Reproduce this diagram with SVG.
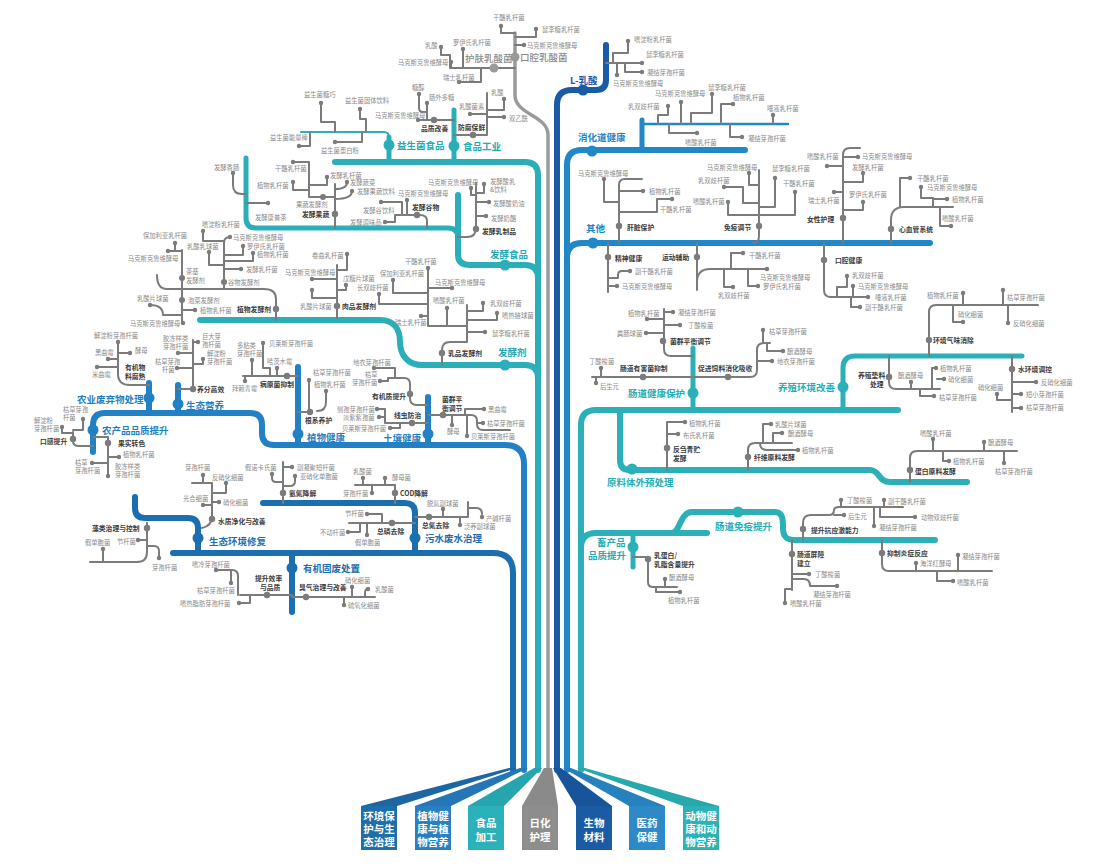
<svg xmlns="http://www.w3.org/2000/svg" width="1100" height="866" viewBox="0 0 1100 866">
<style>
text{font-family:"Noto Sans CJK SC","Noto Sans",sans-serif;dominant-baseline:central}
.l{font-size:6.3px;fill:#8a8a8a}
.s{font-size:6.8px;font-weight:700;fill:#3a3a3a}
.c{font-size:9.5px;font-weight:700}
.g{fill:none;stroke:#7b7b7b;stroke-width:2;stroke-linecap:round;stroke-linejoin:round}
.t{fill:none;stroke-linecap:round;stroke-linejoin:round}
.d{fill:#7b7b7b}
.bx{font-size:10.5px;font-weight:700;fill:#fff;text-anchor:middle}
.xg{fill:#8a8a8a}.xf{fill:#22a9b3}.xp{fill:#1f7fc2}.xe{fill:#1a6db0}.xb{fill:#1858a5}.xm{fill:#1f86c7}.xa{fill:#25adb5}
</style>
<rect width="1100" height="866" fill="#fff"/>
<g id="connectors">
<path class="t" stroke="#9a9a9a" stroke-width="3.5" d="M548,770 V135 C548,115 515,115 515,95 V33"/>
<g class="t" stroke="#2aafb9" stroke-width="6">
<path d="M335,162 H525 Q538,162 538,175 V770"/>
<path d="M246,158 V218 Q246,228 256,228 H448 Q458,228 458,238" stroke-width="5"/>
<path d="M458,195 V255 Q458,265 470,265 H525 Q538,265 538,278"/>
<path d="M200,320 H380 C395,320 400,330 400,342 C400,355 408,365 422,365 H525 Q538,365 538,378"/>
<path d="M389,137 V162" stroke-width="5"/>
<path d="M454,110 V162" stroke-width="5"/>
<path d="M301,132 H384 Q389,132 389,137" stroke-width="2"/>
</g>
<g class="t" stroke="#2281c4" stroke-width="6">
<path d="M93,452 V425 Q93,413 105,413 H250 Q262,413 262,425 V433 Q262,445 274,445 H505 Q524,445 524,464 V770"/>
<path d="M149,383 V413"/><path d="M178,385 V413"/><path d="M298,367 V445"/><path d="M428,397 V445"/>
</g>
<g class="t" stroke="#1b6eb0" stroke-width="6">
<path d="M135,497 V508 Q135,518 145,518 H188 Q198,518 198,528 V553"/>
<path d="M173,553 H493 Q513,553 513,573 V770"/>
<path d="M263,503 H405 Q415,503 415,513 V553"/>
<path d="M292,553 V612"/>
</g>
<path class="t" stroke="#1a5aa6" stroke-width="6" d="M557,770 V105 Q557,90 572,90 H596 Q606,90 606,80 V45"/>
<g class="t" stroke="#2087c8" stroke-width="6">
<path d="M567,770 V165 Q567,150 582,150 H745"/>
<path d="M567,258 Q567,243 582,243 H930"/>
<path d="M642,120 V150" stroke-width="5"/>
<path d="M642,124 H788" stroke-width="2.5"/>
</g>
<g class="t" stroke="#2bb0b8" stroke-width="6">
<path d="M581,770 V425 Q581,410 596,410 H898"/>
<path d="M581,548 Q581,533 596,533 H707"/>
<path d="M620,410 V460 Q620,470 630,470 H870 C880,470 878,482 890,482 H967"/>
<path d="M693,348 V410" stroke-width="5"/>
<path d="M843,410 V368 Q843,356 855,356 H1022" stroke-width="5"/>
<path d="M633,533 V567" stroke-width="5"/>
<path d="M672,533 C680,533 680,512 692,512 H775 C783,512 783,520 783,528 C783,536 786,540 795,540 H935"/>
</g>
<g class="g">
<path d="M501,26 V33 H515 M536,29 V37 H515 M515,45 H524 M515,68 H451 V62 M441,47 V55 H450 V68 M463,49 V68 M459,82 H481 V68"/>
<path d="M321,103 V122 H335 V132 M360,109 V119 H366 V132 M299,146 H310 V132 M335,142 H362 V132"/>
<path d="M418,120 H454 M419,94 V108 Q419,112 423,112 H427 V120 M427,103 V120 M454,135 H487 V93 M504,99 V110 H487 M470,114 H487 M487,117 H504"/>
<path d="M335,184 V228 M309,197 H335 M293,162 H309 V197 M293,182 V190 H309 M327,177 V185 H309 M335,189 Q347,189 347,182 M335,199 Q352,199 352,191 M233,173 V185 Q233,194 242,194 H246 M246,203 H268"/>
<path d="M395,215 H420 Q427,215 427,221 V228 M407,200 V215 M381,202 H402 V215 M385,222 H395 V215"/>
<path d="M476,183 V228 Q476,237 467,237 H458 M471,188 V195 H476 M484,184 V193 H476 M489,202 H476 M486,216 H476"/>
<path d="M157,275 Q157,289 167,289 H264 Q276,289 276,299 V320 M230,237 Q224,237 224,243 V289 M203,231 V241 H224 M209,252 V265 H224 M243,246 V255 H224 M253,252 V261 H224 M241,269 H224"/>
<path d="M182,250 V323 M168,251 H182 M175,243 V251 M150,305 Q163,305 163,315 H182 M195,310 H182"/>
<path d="M337,265 V318 M347,254 V270 H337 M312,279 H337 M346,285 V290 H337 M312,290 V298 H337"/>
<path d="M428,268 V326 H467 M467,305 V342 M447,308 V326 M467,342 H450 Q442,342 442,350 V365 M393,280 V293 H428 M452,288 H428 M379,294 V304 H428 M421,316 H428 M483,303 V311 H467 M497,313 V320 H467 M485,332 H467"/>
<path d="M118,342 V374 Q118,385 130,385 H149 M130,353 H118 M108,359 H118 M97,367 H118"/>
<path d="M193,340 V389 H178 M178,353 H193 M193,342 H198 M203,359 V364 H193 M177,368 H193"/>
<path d="M243,376 H298 M252,360 V376 M263,343 V368 H270 V376 M277,368 V376 M245,381 V376"/>
<path d="M298,412 H310 M309,380 V412 M326,391 V402 Q326,411 317,411"/>
<path d="M374,368 H395 V378 M380,381 H388 V378 M388,378 H404 Q410,378 410,384 V398 Q410,405 417,405 H428"/>
<path d="M385,409 V423 H428 M377,409 H385 M379,417 H385 M390,428 H400 V423"/>
<path d="M428,415 H471 Q477,415 477,421 V424 Q477,430 483,430 H510 M484,409 H465 V415 M452,425 V415 M483,423 H477 M467,436 V415"/>
<path d="M83,419 V430 H73 M73,432 V441 Q73,446 79,446 H93 M62,427 V433 H73 M93,437 H108 V476 M119,457 H108 M92,463 H108"/>
<path d="M147,523 V552 Q147,562 137,562 H90 M138,540 H147 M147,546 H154 Q159,546 159,551 V558 M103,549 V562"/>
<path d="M192,483 H212 V516 Q212,526 202,528 M203,475 V483 M226,483 V493 H212 M203,505 H212 M219,502 H212"/>
<path d="M283,462 V503 M283,467 H292 M295,476 V481 Q295,486 290,486 H283 M272,474 V478 Q272,482 276,482 H283"/>
<path d="M355,485 H395 V503 M363,478 V485 M385,478 V485 M372,493 V485"/>
<path d="M349,523 H415 M367,514 H382 V523 M348,532 H360 V523 M367,535 V523"/>
<path d="M415,517 H468 V502 M443,509 V517 M460,525 V517 M468,508 H476 Q482,508 482,514"/>
<path d="M240,595 H292 M216,570 H232 Q238,570 238,576 V595 M231,583 V570 M239,603 H250 V595"/>
<path d="M292,597 H375 M352,587 V597 M368,589 Q365,589 365,593 V597 M344,605 V597"/>
<path d="M606,63 H642 M628,41 V53 H613 V63 M625,63 V72 H642 M617,75 V63"/>
<path d="M668,106 V115 H658 V124 M681,102 V124 M712,94 V113 H691 V124 M733,104 H721 V124 M773,115 V124 M697,133 H669 V124 M742,137 H730 V124"/>
<path d="M642,179 H625 Q619,179 619,185 V243 M604,179 V202 H619 M643,191 H619 M672,199 H657 V212 H619"/>
<path d="M759,170 V236 Q759,243 753,243 M749,173 V185 H759 M724,187 H743 V203 H759 M728,202 V215 H759 M775,178 V207 H759 M795,192 V215 H759"/>
<path d="M860,148 H850 Q843,148 843,155 V243 M827,166 H843 M858,157 H843 M863,173 V182 H843 M834,192 H843 M863,202 V210 H843"/>
<path d="M891,243 V220 Q891,207 904,207 H953 M910,178 H900 V207 M921,187 V198 H933 V207 M947,199 H933 M951,226 H940 V207"/>
<path d="M608,243 V292 M630,271 H622 Q618,271 618,275 V278 H608 M617,286 H608"/>
<path d="M697,243 V290 M697,282 Q697,269 710,269 H767 M743,253 H731 V269 M733,287 H724 V269 M758,286 H748 V269"/>
<path d="M824,243 V290 Q824,297 831,297 H868 M847,276 V287 H837 V297 M853,286 V297 M860,307 H851 V297"/>
<path d="M664,309 V349 Q664,356 671,356 H693 M673,312 H664 M647,319 H664 M680,325 H664 M646,333 H664"/>
<path d="M592,377 H750 Q757,377 757,370 V350 Q757,343 764,343 H770 M601,368 V377 M596,383 V377 M763,330 V343 M783,351 H767 V343 M772,361 H757"/>
<path d="M929,356 V312 Q929,305 936,305 H1038 M963,293 V305 M963,322 H953 V305 M1003,290 V305 M1008,323 V305"/>
<path d="M889,356 V382 Q889,389 896,389 H940 M911,382 V389 M936,368 H932 V389 M944,379 H937 M934,396 H920 V389"/>
<path d="M1012,356 V412 M997,394 V400 H1012 M1012,382 H1036 M1012,394 H1021 M1012,408 H1021"/>
<path d="M667,470 V422 H685 M678,434 H667"/>
<path d="M748,470 V450 Q748,443 755,443 H792 M771,424 H763 V443 M782,433 H773 V443 M760,443 Q760,450 767,450 H798"/>
<path d="M910,482 V458 Q910,451 917,451 H1017 M933,439 V451 M984,442 V451 M949,461 H943 V451 M1004,463 V451"/>
<path d="M803,540 V523 Q803,515 811,515 H829 Q834,515 834,510 Q834,507 839,507 H903 M841,500 V507 M844,515 H834 M884,500 V507 M915,517 H880 V507 M874,526 V507"/>
<path d="M792,540 V590 M809,574 H792 M792,579 H804 Q810,579 810,586 H837 M785,603 V589 H792"/>
<path d="M882,540 V564 Q882,571 889,571 H992 M916,563 V571 M958,555 V571 M953,581 H937 V571"/>
<path d="M633,557 H648 V582 Q648,587 653,587 H677 M656,587 V592 H680 M665,579 V587"/>
</g>
</g>
<g id="n-oral">
<circle cx="515" cy="57" r="4.5" fill="#9a9a9a"/><text class="c xg" x="520" y="57" style="font-weight:500">口腔乳酸菌</text>
<circle class="d" cx="501" cy="26" r="2.2"/><text class="l" x="493" y="17">干酪乳杆菌</text>
<circle class="d" cx="536" cy="29" r="2.2"/><text class="l" x="542" y="29">鼠李糖乳杆菌</text>
<circle class="d" cx="524" cy="45" r="2.2"/><text class="l" x="527" y="45">马克斯克鲁维酵母</text>
</g>
<g id="n-skin">
<circle cx="494" cy="68" r="4.5" fill="#9a9a9a"/><text class="c xg" x="465" y="58" style="font-weight:500">护肤乳酸菌</text>
<circle class="d" cx="441" cy="47" r="2.2"/><text class="l" x="425" y="45">乳酸</text>
<circle class="d" cx="463" cy="49" r="2.2"/><text class="l" x="453" y="42">罗伊氏乳杆菌</text>
<circle class="d" cx="451" cy="62" r="2.2"/><text class="l" x="398" y="62">马克斯克鲁维酵母</text>
<circle class="d" cx="459" cy="82" r="2.2"/><text class="l" x="443" y="77">瑞士乳杆菌</text>
</g>
<g id="n-probiotic-food">
<circle cx="389" cy="145" r="5.5" fill="#2aafb9"/><text class="c xf" x="397" y="145">益生菌食品</text>
<circle class="d" cx="321" cy="103" r="2.2"/><text class="l" x="304" y="94">益生菌糖巧</text>
<circle class="d" cx="360" cy="109" r="2.2"/><text class="l" x="345" y="100">益生菌固体饮料</text>
<circle class="d" cx="299" cy="146" r="2.2"/><text class="l" x="270" y="137">益生菌能量棒</text>
<circle class="d" cx="335" cy="142" r="2.2"/><text class="l" x="321" y="150">益生菌蛋白粉</text>
</g>
<g id="n-food-industry">
<circle cx="454" cy="146" r="5.5" fill="#2aafb9"/><text class="c xf" x="463" y="146">食品工业</text>
<circle class="d" cx="418" cy="120" r="2.2"/><text class="l" x="375" y="115">马克斯克鲁维酵母</text>
<circle class="d" cx="434" cy="120" r="3.2"/><text class="s" x="421" y="128">品质改善</text>
<circle class="d" cx="419" cy="94" r="2.2"/><text class="l" x="412" y="87">糖醇</text>
<circle class="d" cx="427" cy="103" r="2.2"/><text class="l" x="429" y="97">肠外多糖</text>
<circle class="d" cx="473" cy="135" r="3.2"/><text class="s" x="458" y="127">防腐保鲜</text>
<circle class="d" cx="504" cy="99" r="2.2"/><text class="l" x="491" y="92">乳酸</text>
<circle class="d" cx="470" cy="114" r="2.2"/><text class="l" x="459" y="106">乳酸菌素</text>
<circle class="d" cx="504" cy="117" r="2.2"/><text class="l" x="509" y="118">双乙酰</text>
</g>
<g id="n-ferment-food">
<circle cx="505" cy="265" r="5.5" fill="#2aafb9"/><text class="c xf" x="490" y="254">发酵食品</text>
<circle class="d" cx="335" cy="214" r="3.2"/><text class="s" x="302" y="214">发酵果蔬</text>
<circle class="d" cx="323" cy="197" r="3"/><text class="l" x="296" y="204">果蔬发酵剂</text>
<circle class="d" cx="293" cy="162" r="2.2"/><text class="l" x="275" y="168">干酪乳杆菌</text>
<circle class="d" cx="293" cy="182" r="2.2"/><text class="l" x="257" y="185">植物乳杆菌</text>
<circle class="d" cx="327" cy="177" r="2.2"/><text class="l" x="330" y="175">发酵乳杆菌</text>
<circle class="d" cx="347" cy="182" r="2.2"/><text class="l" x="350" y="182">发酵蔬菜</text>
<circle class="d" cx="352" cy="191" r="2.2"/><text class="l" x="357" y="191">发酵果蔬饮料</text>
<circle class="d" cx="233" cy="173" r="2.2"/><text class="l" x="214" y="167">发酵香肠</text>
<circle class="d" cx="268" cy="203" r="2.2"/><text class="l" x="255" y="217">发酵康普茶</text>
<circle class="d" cx="417" cy="215" r="3.2"/><text class="s" x="412" y="207">发酵谷物</text>
<circle class="d" cx="407" cy="200" r="2.2"/><text class="l" x="398" y="193">马克斯克鲁维酵母</text>
<circle class="d" cx="381" cy="202" r="2.2"/><text class="l" x="363" y="210">发酵谷饮料</text>
<circle class="d" cx="385" cy="222" r="2.2"/><text class="l" x="350" y="222">发酵调味品</text>
<circle class="d" cx="476" cy="229" r="3.2"/><text class="s" x="482" y="231">发酵乳制品</text>
<circle class="d" cx="471" cy="188" r="2.2"/><text class="l" x="428" y="182">马克斯克鲁维酵母</text>
<circle class="d" cx="484" cy="184" r="2.2"/><text class="l" x="490" y="181.5">发酵酸乳</text><text class="l" x="490" y="189.5">&amp;饮料</text>
<circle class="d" cx="489" cy="202" r="2.2"/><text class="l" x="493" y="203">发酵酸奶油</text>
<circle class="d" cx="486" cy="216" r="2.2"/><text class="l" x="491" y="218">发酵奶酪</text>
</g>
<g id="n-starter">
<circle cx="505" cy="365" r="5.5" fill="#2aafb9"/><text class="c xf" x="498" y="352">发酵剂</text>
<circle class="d" cx="276" cy="309" r="3.2"/><text class="s" x="237" y="309">植物发酵剂</text>
<circle class="d" cx="224" cy="282" r="3"/><text class="l" x="228" y="282">谷物发酵剂</text>
<circle class="d" cx="230" cy="237" r="2.2"/><text class="l" x="233" y="237">马克斯克鲁维酵母</text>
<circle class="d" cx="203" cy="231" r="2.2"/><text class="l" x="202" y="224">嗜淀粉乳杆菌</text>
<circle class="d" cx="209" cy="252" r="2.2"/><text class="l" x="187" y="246">乳酸乳球菌</text>
<circle class="d" cx="243" cy="246" r="2.2"/><text class="l" x="247" y="246">罗伊氏乳杆菌</text>
<circle class="d" cx="253" cy="253" r="2.2"/><text class="l" x="257" y="254">植物乳杆菌</text>
<circle class="d" cx="241" cy="269" r="2.2"/><text class="l" x="246" y="269">发酵乳杆菌</text>
<circle class="d" cx="182" cy="278" r="3"/><text class="l" x="186" y="271.5">茶基</text><text class="l" x="186" y="280">发酵剂</text>
<circle class="d" cx="182" cy="300" r="3"/><text class="l" x="188" y="300">泡菜发酵剂</text>
<circle class="d" cx="175" cy="243" r="2.2"/><text class="l" x="143" y="235">保加利亚乳杆菌</text>
<circle class="d" cx="168" cy="251" r="2.2"/><text class="l" x="128" y="258">马克斯克鲁维酵母</text>
<circle class="d" cx="150" cy="305" r="2.2"/><text class="l" x="137" y="298">乳酸片球菌</text>
<circle class="d" cx="195" cy="310" r="2.2"/><text class="l" x="200" y="310">植物乳杆菌</text>
<circle class="d" cx="183" cy="323" r="2.2"/><text class="l" x="130" y="323">马克斯克鲁维酵母</text>
<circle class="d" cx="337" cy="306" r="3.2"/><text class="s" x="342" y="306">肉品发酵剂</text>
<circle class="d" cx="347" cy="254" r="2.2"/><text class="l" x="312" y="255">卷曲乳杆菌</text>
<circle class="d" cx="312" cy="279" r="2.2"/><text class="l" x="285" y="272">马克斯克鲁维酵母</text>
<circle class="d" cx="346" cy="285" r="2.2"/><text class="l" x="343" y="278">戊糖片球菌</text>
<circle class="d" cx="312" cy="290" r="2.2"/><text class="l" x="300" y="306">乳酸片球菌</text>
<circle class="d" cx="442" cy="353" r="3.2"/><text class="s" x="448" y="353">乳品发酵剂</text>
<circle class="d" cx="428" cy="268" r="2.2"/><text class="l" x="405" y="261">干酪乳杆菌</text>
<circle class="d" cx="393" cy="280" r="2.2"/><text class="l" x="380" y="273">保加利亚乳杆菌</text>
<circle class="d" cx="452" cy="288" r="2.2"/><text class="l" x="435" y="282">马克斯克鲁维酵母</text>
<circle class="d" cx="379" cy="294" r="2.2"/><text class="l" x="357" y="287">长双歧杆菌</text>
<circle class="d" cx="447" cy="308" r="2.2"/><text class="l" x="433" y="300">嗜酸乳杆菌</text>
<circle class="d" cx="421" cy="316" r="2.2"/><text class="l" x="395" y="322">瑞士乳杆菌</text>
<circle class="d" cx="483" cy="303" r="2.2"/><text class="l" x="490" y="303">乳双歧杆菌</text>
<circle class="d" cx="497" cy="313" r="2.2"/><text class="l" x="502" y="315">嗜热链球菌</text>
<circle class="d" cx="485" cy="332" r="2.2"/><text class="l" x="492" y="333">鼠李糖乳杆菌</text>
</g>
<g id="n-agri-waste">
<circle cx="149" cy="398" r="5.5" fill="#2281c4"/><text class="c xp" x="77" y="399">农业废弃物处理</text>
<text class="s" x="125" y="367">有机物</text><text class="s" x="125" y="376">料腐熟</text>
<circle class="d" cx="118" cy="342" r="2.2"/><text class="l" x="94" y="335">解淀粉芽孢杆菌</text>
<circle class="d" cx="130" cy="353" r="2.2"/><text class="l" x="135" y="350">酵母</text>
<circle class="d" cx="108" cy="359" r="2.2"/><text class="l" x="95" y="352">黑曲霉</text>
<circle class="d" cx="97" cy="367" r="2.2"/><text class="l" x="92" y="374">米曲霉</text>
</g>
<g id="n-eco-nutrition">
<circle cx="178" cy="404" r="5.5" fill="#2281c4"/><text class="c xp" x="186" y="405">生态营养</text>
<circle class="d" cx="193" cy="389" r="3.2"/><text class="s" x="197" y="389">养分高效</text>
<circle class="d" cx="178" cy="353" r="2.2"/><text class="l" x="163" y="338.5">胶冻样类</text><text class="l" x="163" y="346.5">芽孢杆菌</text>
<circle class="d" cx="198" cy="342" r="2.2"/><text class="l" x="202" y="336.5">巨大芽</text><text class="l" x="202" y="344.5">孢杆菌</text>
<circle class="d" cx="203" cy="359" r="2.2"/><text class="l" x="207" y="353.5">解淀粉</text><text class="l" x="207" y="361.5">芽孢杆菌</text>
<circle class="d" cx="177" cy="368" r="2.2"/><text class="l" x="155" y="361.5">枯草芽孢</text><text class="l" x="162" y="369.5">杆菌</text>
</g>
<g id="n-agri-quality">
<circle cx="93" cy="430" r="5.5" fill="#2281c4"/><text class="c xp" x="102" y="430">农产品品质提升</text>
<circle class="d" cx="73" cy="439" r="3.2"/><text class="s" x="40" y="441">口感提升</text>
<circle class="d" cx="83" cy="419" r="2.2"/><text class="l" x="63" y="409.5">枯草芽孢</text><text class="l" x="63" y="417.5">杆菌</text>
<circle class="d" cx="62" cy="427" r="2.2"/><text class="l" x="34" y="420.5">解淀粉</text><text class="l" x="34" y="428.5">芽孢杆菌</text>
<circle class="d" cx="108" cy="443" r="3.2"/><text class="s" x="118" y="443">果实转色</text>
<circle class="d" cx="119" cy="457" r="2.2"/><text class="l" x="123" y="454">植物乳杆菌</text>
<circle class="d" cx="92" cy="463" r="2.2"/><text class="l" x="75" y="462.5">枯草</text><text class="l" x="75" y="470.5">芽孢杆菌</text>
<circle class="d" cx="108" cy="476" r="2.2"/><text class="l" x="115" y="466.5">胶冻样类</text><text class="l" x="115" y="474.5">芽孢杆菌</text>
</g>
<g id="n-plant-health">
<circle cx="298" cy="434" r="5.5" fill="#2281c4"/><text class="c xp" x="307" y="437">植物健康</text>
<circle class="d" cx="287" cy="376" r="3.2"/><text class="s" x="260" y="384">病原菌抑制</text>
<circle class="d" cx="252" cy="360" r="2.2"/><text class="l" x="237" y="345">多粘类</text><text class="l" x="237" y="353">芽孢杆菌</text>
<circle class="d" cx="263" cy="343" r="2.2"/><text class="l" x="269" y="343">贝莱斯芽孢杆菌</text>
<circle class="d" cx="277" cy="368" r="2.2"/><text class="l" x="267" y="361">哈茨木霉</text>
<circle class="d" cx="245" cy="381" r="2.2"/><text class="l" x="232" y="388">拜赖青霉</text>
<circle class="d" cx="310" cy="412" r="3.2"/><text class="s" x="305" y="420">根系养护</text>
<circle class="d" cx="309" cy="380" r="2.2"/><text class="l" x="313" y="372">枯草芽孢杆菌</text>
<circle class="d" cx="326" cy="391" r="2.2"/><text class="l" x="314" y="384">植物乳杆菌</text>
</g>
<g id="n-soil">
<circle cx="428" cy="434" r="5.5" fill="#2281c4"/><text class="c xp" x="383" y="438">土壤健康</text>
<circle class="d" cx="410" cy="394" r="3.2"/><text class="s" x="372" y="396">有机质提升</text>
<circle class="d" cx="374" cy="368" r="2.2"/><text class="l" x="353" y="362">地衣芽孢杆菌</text>
<circle class="d" cx="380" cy="381" r="2.2"/><text class="l" x="365" y="374.5">枯草</text><text class="l" x="352" y="382.5">芽孢杆菌</text>
<circle class="d" cx="412" cy="423" r="3.2"/><text class="s" x="394" y="415">线虫防治</text>
<circle class="d" cx="377" cy="409" r="2.2"/><text class="l" x="337" y="409">侧孢芽孢杆菌</text>
<circle class="d" cx="379" cy="417" r="2.2"/><text class="l" x="343" y="417">淡紫紫孢菌</text>
<circle class="d" cx="390" cy="428" r="2.2"/><text class="l" x="342" y="428">贝莱斯芽孢杆菌</text>
<circle class="d" cx="443" cy="415" r="3.2"/><text class="s" x="442" y="399">菌群平</text><text class="s" x="442" y="407.5">衡调节</text>
<circle class="d" cx="484" cy="409" r="2.2"/><text class="l" x="488" y="409">黑曲霉</text>
<circle class="d" cx="452" cy="425" r="2.2"/><text class="l" x="447" y="431">酵母</text>
<circle class="d" cx="483" cy="423" r="2.2"/><text class="l" x="487" y="423">枯草芽孢杆菌</text>
<circle class="d" cx="467" cy="436" r="2.2"/><text class="l" x="471" y="436">贝莱斯芽孢杆菌</text>
</g>
<g id="n-eco-repair">
<circle cx="198" cy="538" r="5.5" fill="#1b6eb0"/><text class="c xe" x="209" y="541">生态环境修复</text>
<circle class="d" cx="147" cy="528" r="3.2"/><text class="s" x="92" y="528">藻类治理与控制</text>
<circle class="d" cx="138" cy="540" r="2.2"/><text class="l" x="117" y="541">节杆菌</text>
<circle class="d" cx="159" cy="558" r="2.2"/><text class="l" x="152" y="567">芽孢杆菌</text>
<circle class="d" cx="103" cy="549" r="2.2"/><text class="l" x="85" y="542">假单胞菌</text>
<circle class="d" cx="212" cy="519" r="3.2"/><text class="s" x="218" y="521">水质净化与改善</text>
<circle class="d" cx="203" cy="475" r="2.2"/><text class="l" x="185" y="467">芽孢杆菌</text>
<circle class="d" cx="226" cy="483" r="2.2"/><text class="l" x="212" y="477">反硝化细菌</text>
<circle class="d" cx="203" cy="505" r="2.2"/><text class="l" x="183" y="498">光合细菌</text>
<circle class="d" cx="219" cy="502" r="2.2"/><text class="l" x="223" y="502">硝化细菌</text>
</g>
<g id="n-wastewater">
<circle cx="415" cy="538" r="5.5" fill="#1b6eb0"/><text class="c xe" x="425" y="538">污水废水治理</text>
<circle class="d" cx="283" cy="493" r="3.2"/><text class="s" x="289" y="493">氨氮降解</text>
<circle class="d" cx="272" cy="474" r="2.2"/><text class="l" x="245" y="467">假诺卡氏菌</text>
<circle class="d" cx="292" cy="467" r="2.2"/><text class="l" x="297" y="467">副凝聚短杆菌</text>
<circle class="d" cx="295" cy="476" r="2.2"/><text class="l" x="300" y="476">亚硝化单胞菌</text>
<circle class="d" cx="395" cy="493" r="3.2"/><text class="s" x="400" y="493">COD降解</text>
<circle class="d" cx="363" cy="478" r="2.2"/><text class="l" x="353" y="471">乳酸菌</text>
<circle class="d" cx="385" cy="478" r="2.2"/><text class="l" x="392" y="477">酵母菌</text>
<circle class="d" cx="372" cy="493" r="2.2"/><text class="l" x="343" y="493">芽孢杆菌</text>
<circle class="d" cx="392" cy="523" r="3.2"/><text class="s" x="377" y="531">总磷去除</text>
<circle class="d" cx="367" cy="514" r="2.2"/><text class="l" x="345" y="513">节杆菌</text>
<circle class="d" cx="348" cy="532" r="2.2"/><text class="l" x="320" y="532">不动杆菌</text>
<circle class="d" cx="367" cy="535" r="2.2"/><text class="l" x="355" y="542">假单胞菌</text>
<circle class="d" cx="429" cy="517" r="3.2"/><text class="s" x="422" y="525">总氮去除</text>
<circle class="d" cx="443" cy="509" r="2.2"/><text class="l" x="427" y="503">脱氮副球菌</text>
<circle class="d" cx="460" cy="525" r="2.2"/><text class="l" x="464" y="526">泛养副球菌</text>
<circle class="d" cx="482" cy="517" r="2.2"/><text class="l" x="486" y="518">产碱杆菌</text>
</g>
<g id="n-solid-waste">
<circle cx="292" cy="568" r="5.5" fill="#1b6eb0"/><text class="c xe" x="303" y="568">有机固废处置</text>
<circle class="d" cx="267" cy="595" r="3.2"/><text class="s" x="255" y="578">提升效率</text><text class="s" x="260" y="587">与品质</text>
<circle class="d" cx="216" cy="570" r="2.2"/><text class="l" x="192" y="564">嗜冷芽孢杆菌</text>
<circle class="d" cx="231" cy="583" r="2.2"/><text class="l" x="197" y="590">枯草芽孢杆菌</text>
<circle class="d" cx="239" cy="603" r="2.2"/><text class="l" x="180" y="603">嗜热脂肪芽孢杆菌</text>
<circle class="d" cx="306" cy="597" r="3.2"/><text class="s" x="299" y="587">臭气治理与改善</text>
<circle class="d" cx="352" cy="587" r="2.2"/><text class="l" x="345" y="580">硝化细菌</text>
<circle class="d" cx="368" cy="589" r="2.2"/><text class="l" x="375" y="589">乳酸菌</text>
<circle class="d" cx="344" cy="605" r="2.2"/><text class="l" x="348" y="605">硫氧化细菌</text>
</g>
<g id="n-lactic">
<circle cx="583" cy="90" r="5.5" fill="#1a5aa6"/><text class="c xb" x="570" y="80">L-乳酸</text>
<circle class="d" cx="628" cy="41" r="2.2"/><text class="l" x="634" y="39">嗜淀粉乳杆菌</text>
<circle class="d" cx="642" cy="63" r="2.2"/><text class="l" x="646" y="54">鼠李糖乳杆菌</text>
<circle class="d" cx="642" cy="72" r="2.2"/><text class="l" x="647" y="72">凝结芽孢杆菌</text>
<circle class="d" cx="617" cy="75" r="2.2"/><text class="l" x="613" y="83">马克斯克鲁维酵母</text>
</g>
<g id="n-digestive">
<circle cx="592" cy="151" r="5.5" fill="#2087c8"/><text class="c xm" x="578" y="137">消化道健康</text>
<circle class="d" cx="668" cy="106" r="2.2"/><text class="l" x="628" y="106">乳双歧杆菌</text>
<circle class="d" cx="681" cy="102" r="2.2"/><text class="l" x="655" y="93">马克斯克鲁维酵母</text>
<circle class="d" cx="712" cy="94" r="2.2"/><text class="l" x="708" y="87">鼠李糖乳杆菌</text>
<circle class="d" cx="733" cy="104" r="2.2"/><text class="l" x="733" y="97">植物乳杆菌</text>
<circle class="d" cx="773" cy="115" r="2.2"/><text class="l" x="767" y="108">唾液乳杆菌</text>
<circle class="d" cx="697" cy="133" r="2.2"/><text class="l" x="685" y="142">嗜酸乳杆菌</text>
<circle class="d" cx="742" cy="137" r="2.2"/><text class="l" x="748" y="138">凝结芽孢杆菌</text>
</g>
<g id="n-other">
<circle cx="593" cy="243" r="5.5" fill="#2087c8"/><text class="c xm" x="586" y="228">其他</text>
<circle class="d" cx="619" cy="226" r="3.2"/><text class="s" x="627" y="227">肝脏保护</text>
<circle class="d" cx="604" cy="179" r="2.2"/><text class="l" x="578" y="173">马克斯克鲁维酵母</text>
<circle class="d" cx="643" cy="191" r="2.2"/><text class="l" x="649" y="191">植物乳杆菌</text>
<circle class="d" cx="672" cy="199" r="2.2"/><text class="l" x="660" y="209">干酪乳杆菌</text>
<circle class="d" cx="759" cy="226" r="3.2"/><text class="s" x="724" y="227">免疫调节</text>
<circle class="d" cx="749" cy="173" r="2.2"/><text class="l" x="707" y="167">马克斯克鲁维酵母</text>
<circle class="d" cx="724" cy="187" r="2.2"/><text class="l" x="698" y="180">乳双歧杆菌</text>
<circle class="d" cx="728" cy="202" r="2.2"/><text class="l" x="693" y="201">嗜酸乳杆菌</text>
<circle class="d" cx="775" cy="178" r="2.2"/><text class="l" x="772" y="168">鼠李糖乳杆菌</text>
<circle class="d" cx="795" cy="192" r="2.2"/><text class="l" x="783" y="183">干酪乳杆菌</text>
<circle class="d" cx="843" cy="218" r="3.2"/><text class="s" x="807" y="219">女性护理</text>
<circle class="d" cx="827" cy="166" r="2.2"/><text class="l" x="807" y="156">嗜酸乳杆菌</text>
<circle class="d" cx="858" cy="157" r="2.2"/><text class="l" x="862" y="156">马克斯克鲁维酵母</text>
<circle class="d" cx="863" cy="173" r="2.2"/><text class="l" x="852" y="167">发酵乳杆菌</text>
<circle class="d" cx="834" cy="192" r="2.2"/><text class="l" x="808" y="200">瑞士乳杆菌</text>
<circle class="d" cx="863" cy="202" r="2.2"/><text class="l" x="849" y="194">罗伊氏乳杆菌</text>
<circle class="d" cx="891" cy="229" r="3.2"/><text class="s" x="899" y="229">心血管系统</text>
<circle class="d" cx="910" cy="178" r="2.2"/><text class="l" x="917" y="178">干酪乳杆菌</text>
<circle class="d" cx="921" cy="187" r="2.2"/><text class="l" x="927" y="187">马克斯克鲁维酵母</text>
<circle class="d" cx="947" cy="199" r="2.2"/><text class="l" x="952" y="199">植物乳杆菌</text>
<circle class="d" cx="951" cy="226" r="2.2"/><text class="l" x="942" y="218">嗜酸乳杆菌</text>
<circle class="d" cx="608" cy="257" r="3.2"/><text class="s" x="615" y="258">精神健康</text>
<circle class="d" cx="630" cy="271" r="2.2"/><text class="l" x="635" y="271">副干酪乳杆菌</text>
<circle class="d" cx="617" cy="286" r="2.2"/><text class="l" x="622" y="286">马克斯克鲁维酵母</text>
<circle class="d" cx="697" cy="257" r="3.2"/><text class="s" x="662" y="257">运动辅助</text>
<circle class="d" cx="743" cy="253" r="2.2"/><text class="l" x="749" y="255">干酪乳杆菌</text>
<circle class="d" cx="733" cy="287" r="2.2"/><text class="l" x="718" y="295">乳双歧杆菌</text>
<circle class="d" cx="767" cy="269" r="2.2"/><text class="l" x="760" y="277">马克斯克鲁维酵母</text>
<circle class="d" cx="758" cy="286" r="2.2"/><text class="l" x="763" y="286">罗伊氏乳杆菌</text>
<circle class="d" cx="824" cy="260" r="3.2"/><text class="s" x="835" y="260">口腔健康</text>
<circle class="d" cx="847" cy="276" r="2.2"/><text class="l" x="852" y="275">乳双歧杆菌</text>
<circle class="d" cx="853" cy="286" r="2.2"/><text class="l" x="858" y="286">马克斯克鲁维酵母</text>
<circle class="d" cx="868" cy="297" r="2.2"/><text class="l" x="875" y="297">唾液乳杆菌</text>
<circle class="d" cx="860" cy="307" r="2.2"/><text class="l" x="865" y="307">副干酪乳杆菌</text>
</g>
<g id="n-gut-protect">
<circle cx="693" cy="393" r="5.5" fill="#2bb0b8"/><text class="c xa" x="628" y="393">肠道健康保护</text>
<circle class="d" cx="663" cy="341" r="3.2"/><text class="s" x="670" y="341">菌群平衡调节</text>
<circle class="d" cx="647" cy="319" r="2.2"/><text class="l" x="628" y="313">植物乳杆菌</text>
<circle class="d" cx="673" cy="312" r="2.2"/><text class="l" x="678" y="312">凝结芽孢杆菌</text>
<circle class="d" cx="680" cy="325" r="2.2"/><text class="l" x="688" y="325">丁酸梭菌</text>
<circle class="d" cx="646" cy="333" r="2.2"/><text class="l" x="617" y="333">粪肠球菌</text>
<circle class="d" cx="643" cy="377" r="3.2"/><text class="s" x="620" y="368">肠道有害菌抑制</text>
<circle class="d" cx="601" cy="368" r="2.2"/><text class="l" x="589" y="361">丁酸梭菌</text>
<circle class="d" cx="596" cy="383" r="2.2"/><text class="l" x="600" y="386">后生元</text>
<circle class="d" cx="728" cy="377" r="3.2"/><text class="s" x="698" y="368">促进饲料消化吸收</text>
<circle class="d" cx="763" cy="330" r="2.2"/><text class="l" x="769" y="331">枯草芽孢杆菌</text>
<circle class="d" cx="783" cy="351" r="2.2"/><text class="l" x="787" y="351">酿酒酵母</text>
<circle class="d" cx="772" cy="361" r="2.2"/><text class="l" x="777" y="361">地衣芽孢杆菌</text>
</g>
<g id="n-farm-env">
<circle cx="843" cy="387" r="5.5" fill="#2bb0b8"/><text class="c xa" x="778" y="387">养殖环境改善</text>
<circle class="d" cx="929" cy="340" r="3.2"/><text class="s" x="933" y="340">环境气味消除</text>
<circle class="d" cx="963" cy="293" r="2.2"/><text class="l" x="927" y="295">植物乳杆菌</text>
<circle class="d" cx="963" cy="322" r="2.2"/><text class="l" x="958" y="314">硝化细菌</text>
<circle class="d" cx="1003" cy="290" r="2.2"/><text class="l" x="1007" y="297">枯草芽孢杆菌</text>
<circle class="d" cx="1008" cy="323" r="2.2"/><text class="l" x="1013" y="323">反硝化细菌</text>
<circle class="d" cx="889" cy="377" r="3.2"/><text class="s" x="858" y="375">养殖垫料</text><text class="s" x="870" y="384">处理</text>
<circle class="d" cx="911" cy="382" r="2.2"/><text class="l" x="898" y="375">酿酒酵母</text>
<circle class="d" cx="936" cy="368" r="2.2"/><text class="l" x="940" y="368">植物乳杆菌</text>
<circle class="d" cx="944" cy="379" r="2.2"/><text class="l" x="948" y="379">硝化细菌</text>
<circle class="d" cx="934" cy="396" r="2.2"/><text class="l" x="939" y="397">枯草芽孢杆菌</text>
<circle class="d" cx="1012" cy="369" r="3.2"/><text class="s" x="1018" y="369">水环境调控</text>
<circle class="d" cx="997" cy="394" r="2.2"/><text class="l" x="978" y="387">硝化细菌</text>
<circle class="d" cx="1036" cy="382" r="2.2"/><text class="l" x="1041" y="382">反硝化细菌</text>
<circle class="d" cx="1021" cy="394" r="2.2"/><text class="l" x="1026" y="394">短小芽孢杆菌</text>
<circle class="d" cx="1021" cy="408" r="2.2"/><text class="l" x="1026" y="407">枯草芽孢杆菌</text>
</g>
<g id="n-pretreat">
<circle cx="632" cy="469" r="5.5" fill="#2bb0b8"/><text class="c xa" x="607" y="482">原料体外预处理</text>
<circle class="d" cx="667" cy="448" r="3.2"/><text class="s" x="673" y="449">反刍青贮</text><text class="s" x="673" y="457.5">发酵</text>
<circle class="d" cx="685" cy="422" r="2.2"/><text class="l" x="689" y="423">植物乳杆菌</text>
<circle class="d" cx="678" cy="434" r="2.2"/><text class="l" x="683" y="435">布氏乳杆菌</text>
<circle class="d" cx="748" cy="457" r="3.2"/><text class="s" x="754" y="457">纤维原料发酵</text>
<circle class="d" cx="771" cy="424" r="2.2"/><text class="l" x="775" y="424">乳酸片球菌</text>
<circle class="d" cx="782" cy="433" r="2.2"/><text class="l" x="788" y="433">酿酒酵母</text>
<circle class="d" cx="798" cy="450" r="2.2"/><text class="l" x="802" y="450">植物乳杆菌</text>
<circle class="d" cx="910" cy="470" r="3.2"/><text class="s" x="915" y="471">蛋白原料发酵</text>
<circle class="d" cx="933" cy="439" r="2.2"/><text class="l" x="920" y="433">嗜酸乳杆菌</text>
<circle class="d" cx="984" cy="442" r="2.2"/><text class="l" x="988" y="442">酿酒酵母</text>
<circle class="d" cx="949" cy="461" r="2.2"/><text class="l" x="953" y="461">植物乳杆菌</text>
<circle class="d" cx="1004" cy="463" r="2.2"/><text class="l" x="995" y="471">枯草芽孢杆菌</text>
</g>
<g id="n-gut-immune">
<circle cx="738" cy="512" r="5.5" fill="#2bb0b8"/><text class="c xa" x="715" y="526">肠道免疫提升</text>
<circle class="d" cx="803" cy="529" r="3.2"/><text class="s" x="811" y="530">提升抗应激能力</text>
<circle class="d" cx="841" cy="500" r="2.2"/><text class="l" x="847" y="500">丁酸梭菌</text>
<circle class="d" cx="844" cy="515" r="2.2"/><text class="l" x="848" y="516">后生元</text>
<circle class="d" cx="884" cy="500" r="2.2"/><text class="l" x="888" y="501">副干酪乳杆菌</text>
<circle class="d" cx="915" cy="517" r="2.2"/><text class="l" x="921" y="517">动物双歧杆菌</text>
<circle class="d" cx="874" cy="526" r="2.2"/><text class="l" x="879" y="527">凝结芽孢杆菌</text>
<circle class="d" cx="792" cy="554" r="3.2"/><text class="s" x="797" y="554">肠道屏障</text><text class="s" x="797" y="563">建立</text>
<circle class="d" cx="809" cy="574" r="2.2"/><text class="l" x="815" y="574">丁酸梭菌</text>
<circle class="d" cx="837" cy="586" r="2.2"/><text class="l" x="813" y="594">凝结芽孢杆菌</text>
<circle class="d" cx="785" cy="603" r="2.2"/><text class="l" x="790" y="603">嗜酸乳杆菌</text>
<circle class="d" cx="882" cy="553" r="3.2"/><text class="s" x="887" y="553">抑制炎症反应</text>
<circle class="d" cx="916" cy="563" r="2.2"/><text class="l" x="920" y="563">海洋红酵母</text>
<circle class="d" cx="958" cy="555" r="2.2"/><text class="l" x="962" y="556">凝结芽孢杆菌</text>
<circle class="d" cx="953" cy="581" r="2.2"/><text class="l" x="957" y="582">嗜酸乳杆菌</text>
</g>
<g id="n-livestock">
<circle cx="633" cy="547" r="5.5" fill="#2bb0b8"/><text class="c xa" x="597" y="542">畜产品</text><text class="c xa" x="588" y="555">品质提升</text>
<circle class="d" cx="648" cy="559" r="3.2"/><text class="s" x="654" y="555">乳蛋白/</text><text class="s" x="654" y="564">乳脂含量提升</text>
<circle class="d" cx="665" cy="579" r="2.2"/><text class="l" x="669" y="577">酿酒酵母</text>
<circle class="d" cx="680" cy="592" r="2.2"/><text class="l" x="668" y="600">植物乳杆菌</text>
</g>
<g id="ribbons">
<polygon points="509,768 517,768 397,806 361,806" fill="#1c66a3"/>
<polygon points="520,768 528,768 451,806 415,806" fill="#2476b6"/>
<polygon points="534,768 542,768 504,806 468,806" fill="#27a5ae"/>
<polygon points="544,768 552,768 558,806 522,806" fill="#8a8a8a"/>
<polygon points="553,768 561,768 612,806 576,806" fill="#17549a"/>
<polygon points="563,768 571,768 665,806 629,806" fill="#2681bd"/>
<polygon points="577,768 585,768 719,806 683,806" fill="#27a8ad"/>
</g>
<g id="box-env"><rect x="361" y="806" width="36" height="44" fill="#1e6eab"/><text class="bx" x="379" y="815">环境保</text><text class="bx" x="379" y="828.2">护与生</text><text class="bx" x="379" y="841.4">态治理</text></g>
<g id="box-plant"><rect x="415" y="806" width="36" height="44" fill="#2a7fc1"/><text class="bx" x="433" y="815">植物健</text><text class="bx" x="433" y="828.2">康与植</text><text class="bx" x="433" y="841.4">物营养</text></g>
<g id="box-food"><rect x="468" y="806" width="36" height="44" fill="#2bb1ba"/><text class="bx" x="486" y="822">食品</text><text class="bx" x="486" y="836">加工</text></g>
<g id="box-daily"><rect x="522" y="806" width="36" height="44" fill="#8d8d8d"/><text class="bx" x="540" y="822">日化</text><text class="bx" x="540" y="836">护理</text></g>
<g id="box-bio"><rect x="576" y="806" width="36" height="44" fill="#1a5ba3"/><text class="bx" x="594" y="822">生物</text><text class="bx" x="594" y="836">材料</text></g>
<g id="box-med"><rect x="629" y="806" width="36" height="44" fill="#2d8ac6"/><text class="bx" x="647" y="822">医药</text><text class="bx" x="647" y="836">保健</text></g>
<g id="box-animal"><rect x="683" y="806" width="36" height="44" fill="#2cb2b4"/><text class="bx" x="701" y="815">动物健</text><text class="bx" x="701" y="828.2">康和动</text><text class="bx" x="701" y="841.4">物营养</text></g>
</svg>
